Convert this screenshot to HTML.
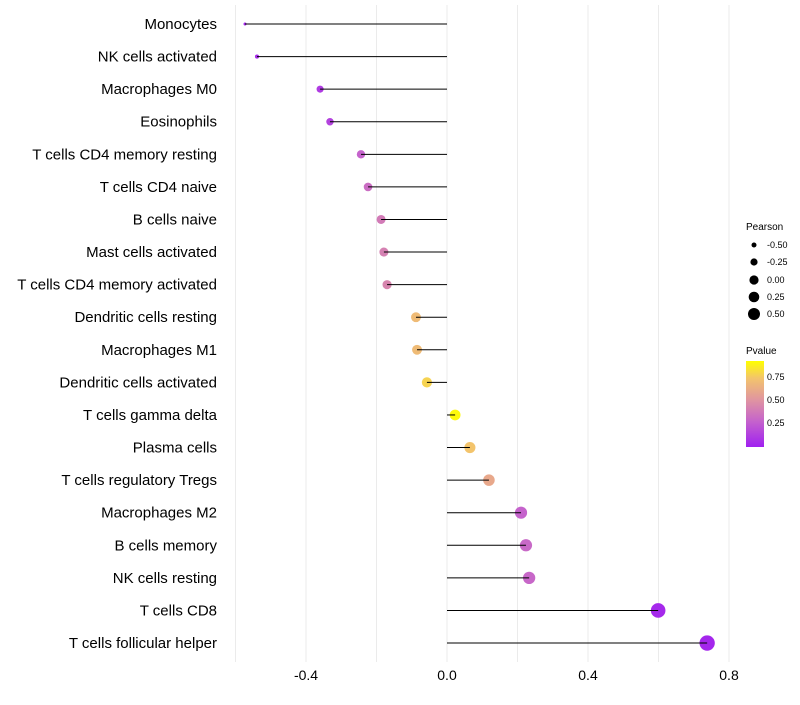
<!DOCTYPE html>
<html><head><meta charset="utf-8"><style>
body{margin:0;background:#fff;font-family:"Liberation Sans",sans-serif}
</style></head><body>
<svg id="chart" width="800" height="700" xmlns="http://www.w3.org/2000/svg">
<g id="grid"></g><g id="dots"></g><g id="marks"></g><g id="labels"></g>
<g font-size="9" fill="#000">
<text x="746" y="230" font-size="10">Pearson</text>
<circle cx="754" cy="245" r="2.5"/><text x="767" y="248">-0.50</text>
<circle cx="754" cy="262" r="3.6"/><text x="767" y="265">-0.25</text>
<circle cx="754" cy="280" r="4.6"/><text x="767" y="283">0.00</text>
<circle cx="754" cy="297" r="5.3"/><text x="767" y="300">0.25</text>
<circle cx="754" cy="314" r="6"/><text x="767" y="317">0.50</text>
</g>
<defs><linearGradient id="pg" x1="0" y1="1" x2="0" y2="0">
<stop offset="0" stop-color="#A020F0"/><stop offset="0.3" stop-color="#C563CC"/><stop offset="0.55" stop-color="#E095A0"/><stop offset="0.8" stop-color="#F3C46C"/><stop offset="1" stop-color="#FFFF00"/>
</linearGradient></defs>
<g font-size="9">
<text x="746" y="354" font-size="10">Pvalue</text>
<rect x="746" y="361" width="18" height="86" fill="url(#pg)"/>
<text x="767" y="380">0.75</text><text x="767" y="403">0.50</text><text x="767" y="426">0.25</text>
</g>
</svg>
<script>
const categories=["Monocytes","NK cells activated","Macrophages M0","Eosinophils","T cells CD4 memory resting","T cells CD4 naive","B cells naive","Mast cells activated","T cells CD4 memory activated","Dendritic cells resting","Macrophages M1","Dendritic cells activated","T cells gamma delta","Plasma cells","T cells regulatory  Tregs ","Macrophages M2","B cells memory","NK cells resting","T cells CD8","T cells follicular helper"];
const pearson=[-0.573,-0.539,-0.360,-0.332,-0.244,-0.224,-0.187,-0.179,-0.170,-0.088,-0.085,-0.057,0.023,0.065,0.119,0.210,0.224,0.233,0.599,0.738];
const pvalue=[0.03,0.05,0.12,0.15,0.30,0.35,0.42,0.45,0.47,0.75,0.75,0.85,0.98,0.80,0.65,0.30,0.33,0.32,0.04,0.03];
const xTicks=[-0.4,0,0.4,0.8];
const xTickLabels=["-0.4","0.0","0.4","0.8"];
const gridVals=[-0.6,-0.4,-0.2,0,0.2,0.4,0.6,0.8];
const NS="http://www.w3.org/2000/svg";
const x=v=>447+v*352.5;
const y=i=>24+i*32.58;
const r=v=>0.5+6.2*Math.sqrt(Math.max(v+0.6,0));
const stops=[[0,[160,32,240]],[0.3,[197,99,204]],[0.55,[224,149,160]],[0.8,[243,196,108]],[1,[255,255,0]]];
function col(p){for(let k=1;k<stops.length;k++){if(p<=stops[k][0]){const a=stops[k-1],b=stops[k];const t=(p-a[0])/(b[0]-a[0]);return "rgb("+a[1].map((c,j)=>Math.round(c+(b[1][j]-c)*t)).join(",")+")";}}return "rgb(255,255,0)";}
function mk(t,at,parent){const e=document.createElementNS(NS,t);for(const k in at)e.setAttribute(k,at[k]);parent.appendChild(e);return e;}
const G=document.getElementById("grid"),D=document.getElementById("dots"),M=document.getElementById("marks"),L=document.getElementById("labels");
gridVals.forEach(v=>{const e=mk("line",{x1:x(v),x2:x(v),y1:5,y2:662,stroke:"#ebebeb","stroke-width":1},G);

});
xTicks.forEach((v,i)=>{const t=mk("text",{x:x(v),y:680,"text-anchor":"middle","font-size":"14",fill:"#000"},L);t.textContent=xTickLabels[i];

});
categories.forEach((c,i)=>{
const t=mk("text",{x:217,y:y(i)+5,"text-anchor":"end","font-size":"15",fill:"#000"},L);t.textContent=c;


const ci=mk("circle",{cx:x(pearson[i]),cy:y(i),r:r(pearson[i]),fill:col(pvalue[i])},D);


const ln=mk("line",{x1:x(0),x2:x(pearson[i]),y1:y(i),y2:y(i),stroke:"#000","stroke-width":1},M);


});
</script>
</body></html>
